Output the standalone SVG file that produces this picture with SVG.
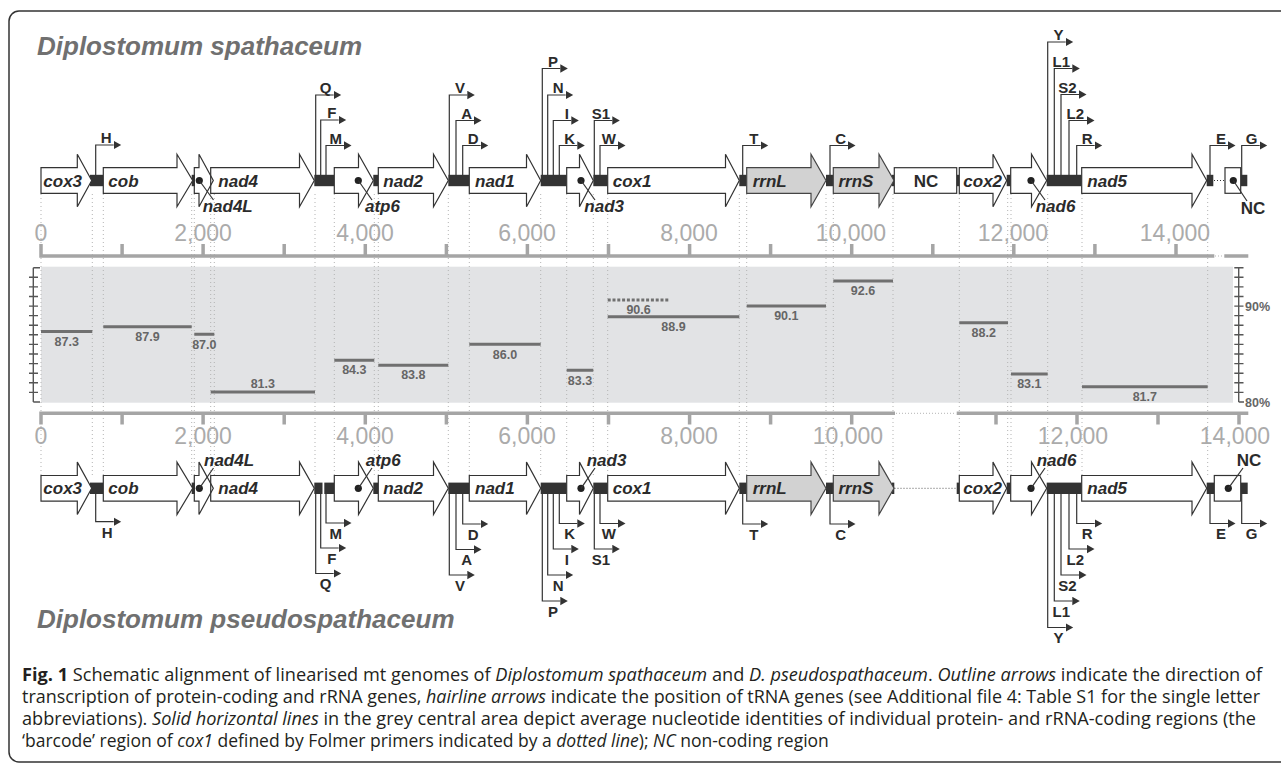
<svg xmlns="http://www.w3.org/2000/svg" width="1281" height="766" viewBox="0 0 1281 766">
<style>
.gene{fill:#fff;stroke:#333;stroke-width:1.2}
.rrn{fill:#d2d2d2;stroke:#444;stroke-width:1.2}
.bar{fill:#333}
.tr{fill:none;stroke:#333;stroke-width:1.2}
.ld{fill:none;stroke:#333;stroke-width:1.2}
.gl{font-family:"Liberation Sans",Arial,sans-serif;font-style:italic;font-weight:bold;font-size:17px;fill:#2b2b2b}
.nc{font-family:"Liberation Sans",Arial,sans-serif;font-weight:bold;font-size:17px;fill:#2b2b2b}
.tl{font-family:"Liberation Sans",Arial,sans-serif;font-weight:bold;font-size:15px;fill:#2b2b2b;text-anchor:end}
.ax{stroke:#a5a5a5;stroke-width:3.5;fill:none}
.axd{stroke:#b5b5b5;stroke-width:1;stroke-dasharray:1 2;fill:none}
.axl{font-family:"Liberation Sans",Arial,sans-serif;font-size:23px;fill:#ababab;text-anchor:middle}
.vd{stroke:#b3b3b3;stroke-width:1;stroke-dasharray:1 3;fill:none}
.idb{stroke:#707070;stroke-width:3;fill:none}
.idl{font-family:"Liberation Sans",Arial,sans-serif;font-weight:bold;font-size:12.5px;fill:#666;text-anchor:middle}
.yax{stroke:#555;stroke-width:1.4;fill:none}
.yl{font-family:"Liberation Sans",Arial,sans-serif;font-weight:bold;font-size:12.5px;fill:#666}
.ttl{font-family:"Liberation Sans",Arial,sans-serif;font-style:italic;font-weight:bold;font-size:26px;fill:#707070}
.cap{font-family:"Open Sans","Liberation Sans",sans-serif;font-size:17.5px;fill:#231f20}
</style>
<defs>
<marker id="ah" viewBox="0 -4.5 8 9" refX="0" refY="0" markerWidth="8" markerHeight="9" markerUnits="userSpaceOnUse" orient="auto"><path d="M0,-4.2 L7.5,0 L0,4.2 z" fill="#333"/></marker>
</defs>

<path id="frame" d="M1290,11 H19 A10,10 0 0 0 9,21 V752 A10,10 0 0 0 19,762 H1290" fill="none" stroke="#333" stroke-width="1.5"/>

<text class="ttl" x="37" y="55">Diplostomum spathaceum</text>
<text class="ttl" x="37" y="628">Diplostomum pseudospathaceum</text>

<!-- central identity area -->
<rect x="41" y="266.7" width="1192" height="136" fill="#e2e3e5"/>

<!-- dotted gene boundary lines -->
<g id="boundaries" class="vd">
<path d="M41,194V476 M92.3,194V476 M103.3,194V476 M191.7,194V476 M194.3,194V476 M210.7,194V476 M214.3,194V476 M315,194V476 M334.3,194V476 M374.3,194V476 M378.3,194V476 M448.3,194V476 M469.3,194V476 M540.7,194V476 M566.7,194V476 M593.3,194V476 M607.7,194V476 M739.3,194V476 M746.7,194V476 M826,194V476 M833.3,194V476 M893,194V476 M959.3,194V476 M1007.7,194V476 M1011,194V476 M1047.7,194V476 M1082,194V476 M1207.7,194V476"/>
</g>

<!-- top axis -->
<g id="axis-top">
<path class="ax" d="M41,244V256H1214.3 M1224.3,256H1248.3 M122.1,244V256 M203.1,244V256 M284.2,244V256 M365.3,244V256 M446.4,244V256 M527.4,244V256 M608.5,244V256 M689.6,244V256 M770.6,244V256 M851.7,244V256 M932.8,244V256 M1013.8,244V256 M1094.9,244V256 M1176,244V256"/>
<path class="axd" d="M1215,256H1224"/>
<text class="axl" x="41" y="241">0</text>
<text class="axl" x="203" y="241">2,000</text>
<text class="axl" x="365" y="241">4,000</text>
<text class="axl" x="527" y="241">6,000</text>
<text class="axl" x="689" y="241">8,000</text>
<text class="axl" x="851" y="241">10,000</text>
<text class="axl" x="1013" y="241">12,000</text>
<text class="axl" x="1175" y="241">14,000</text>
</g>

<!-- bottom axis -->
<g id="axis-bottom">
<path class="ax" d="M41,424.5V413.3H895 M956.7,413.3H1248.3 M122.1,413.3V424.5 M203.1,413.3V424.5 M284.2,413.3V424.5 M365.3,413.3V424.5 M446.4,413.3V424.5 M527.4,413.3V424.5 M608.5,413.3V424.5 M689.6,413.3V424.5 M770.6,413.3V424.5 M851.7,413.3V424.5 M996,413.3V424.5 M1077,413.3V424.5 M1158,413.3V424.5 M1239,413.3V424.5"/>
<path class="axd" d="M896,413.3H956"/>
<text class="axl" x="41" y="443.5">0</text>
<text class="axl" x="203" y="443.5">2,000</text>
<text class="axl" x="365" y="443.5">4,000</text>
<text class="axl" x="527" y="443.5">6,000</text>
<text class="axl" x="689" y="443.5">8,000</text>
<text class="axl" x="848" y="443.5">10,000</text>
<text class="axl" x="1073" y="443.5">12,000</text>
<text class="axl" x="1235" y="443.5">14,000</text>
</g>

<!-- identity y axes -->
<g id="identity-axes">
<path class="yax" d="M33.3,267.7V402 M33.3,267.7H40 M33.3,402H40 M29,277.3H38 M29,286.9H38 M29,296.5H38 M29,306.1H38 M29,315.6H38 M29,325.2H38 M29,334.8H38 M29,344.4H38 M29,354H38 M29,363.6H38 M29,373.2H38 M29,382.8H38 M29,392.4H38"/>
<path class="yax" d="M1238.7,267.7V402 M1234.3,267.7H1243.5 M1238.7,402H1244 M1234.3,277.3H1243.5 M1234.3,286.9H1243.5 M1234.3,296.5H1243.5 M1234.3,306.1H1243.5 M1234.3,315.6H1243.5 M1234.3,325.2H1243.5 M1234.3,334.8H1243.5 M1234.3,344.4H1243.5 M1234.3,354H1243.5 M1234.3,363.6H1243.5 M1234.3,373.2H1243.5 M1234.3,382.8H1243.5 M1234.3,392.4H1243.5"/>
<text class="yl" x="1245" y="310.5">90%</text>
<text class="yl" x="1245" y="407">80%</text>
</g>

<!-- identity bars -->
<g id="identities">
<path class="idb" d="M41,331.5H92.3 M103.3,326.7H191.7 M194.3,334.3H214.3 M210.7,392H315 M334.3,360.3H374.3 M378.3,365.3H448.3 M469.3,344.3H540.7 M566.7,370.3H593.3 M607.7,316.7H739.3 M746.7,306H826 M833.3,281H893 M959.3,322.7H1008 M1011,374H1047.7 M1082,386.7H1207.7"/>
<path class="idb" stroke-dasharray="3 1.8" d="M607.7,300H669.6"/>
<text class="idl" x="66.7" y="346">87.3</text>
<text class="idl" x="147.5" y="341.3">87.9</text>
<text class="idl" x="204.3" y="348.5">87.0</text>
<text class="idl" x="262.8" y="387.5">81.3</text>
<text class="idl" x="354.3" y="374">84.3</text>
<text class="idl" x="413.3" y="379">83.8</text>
<text class="idl" x="505" y="358.5">86.0</text>
<text class="idl" x="580" y="384.5">83.3</text>
<text class="idl" x="638.6" y="313.5">90.6</text>
<text class="idl" x="673.5" y="330.5">88.9</text>
<text class="idl" x="786.3" y="320">90.1</text>
<text class="idl" x="863" y="295">92.6</text>
<text class="idl" x="983.7" y="336.5">88.2</text>
<text class="idl" x="1029.3" y="388">83.1</text>
<text class="idl" x="1144.8" y="401">81.7</text>
</g>

<!-- ===== TOP GENOME ===== -->
<g id="top-spacers" class="bar">
<rect x="90" y="174.8" width="13.3" height="11.4"/>
<rect x="191.7" y="174.8" width="3.3" height="11.4"/>
<rect x="314.3" y="174.8" width="20" height="11.4"/>
<rect x="373.3" y="174.8" width="5" height="11.4"/>
<rect x="448.3" y="174.8" width="21" height="11.4"/>
<rect x="540.7" y="174.8" width="26" height="11.4"/>
<rect x="593.3" y="174.8" width="14.4" height="11.4"/>
<rect x="739.3" y="174.8" width="7.4" height="11.4"/>
<rect x="826" y="174.8" width="7.3" height="11.4"/>
<rect x="891.7" y="174.8" width="2.6" height="11.4"/>
<rect x="956.7" y="174.8" width="2.6" height="11.4"/>
<rect x="1006.7" y="174.8" width="4" height="11.4"/>
<rect x="1046.7" y="174.8" width="35" height="11.4"/>
<rect x="1206.7" y="174.8" width="6.6" height="11.4"/>
<rect x="1240.7" y="174.8" width="6.6" height="11.4"/>
</g>
<path d="M1214,180.5H1225" stroke="#333" stroke-width="1" stroke-dasharray="1 2"/>

<g id="top-cox3"><polygon class="gene" points="41,167.7 77.3,167.7 77.3,154.3 91.7,180.5 77.3,206.7 77.3,193.3 41,193.3"/><text class="gl" x="43.3" y="186.5">cox3</text></g>
<g id="top-cob"><polygon class="gene" points="103.3,167.7 177,167.7 177,154.3 192.7,180.5 177,206.7 177,193.3 103.3,193.3"/><text class="gl" x="108.3" y="186.5">cob</text></g>
<g id="top-nad4"><polygon class="gene" points="210.7,167.7 299.5,167.7 299.5,154.3 314.3,180.5 299.5,206.7 299.5,193.3 210.7,193.3"/><text class="gl" x="218.3" y="186.5">nad4</text></g>
<g id="top-nad4L"><polygon class="gene" style="fill:none" points="194.3,167.7 199,167.7 199,154.3 213.3,180.5 199,206.7 199,193.3 194.3,193.3"/><circle cx="199.3" cy="180.5" r="3.6" fill="#222"/><path class="ld" d="M199.3,180.5L213.5,200"/><text class="gl" x="202.7" y="211.7">nad4L</text></g>
<g id="top-atp6"><polygon class="gene" points="334.3,167.7 358.5,167.7 358.5,154.3 373.3,180.5 358.5,206.7 358.5,193.3 334.3,193.3"/><circle cx="358.3" cy="180.5" r="3.6" fill="#222"/><path class="ld" d="M358.3,180.5L372,200"/><text class="gl" x="365" y="211.7">atp6</text></g>
<g id="top-nad2"><polygon class="gene" points="378.3,167.7 433.5,167.7 433.5,154.3 448.3,180.5 433.5,206.7 433.5,193.3 378.3,193.3"/><text class="gl" x="383.3" y="186.5">nad2</text></g>
<g id="top-nad1"><polygon class="gene" points="469.3,167.7 526.5,167.7 526.5,154.3 540.7,180.5 526.5,206.7 526.5,193.3 469.3,193.3"/><text class="gl" x="475" y="186.5">nad1</text></g>
<g id="top-nad3"><polygon class="gene" points="566.7,167.7 579.5,167.7 579.5,154.3 593.3,180.5 579.5,206.7 579.5,193.3 566.7,193.3"/><circle cx="581" cy="180.5" r="3.6" fill="#222"/><path class="ld" d="M581,180.5L595,200"/><text class="gl" x="584.3" y="211.7">nad3</text></g>
<g id="top-cox1"><polygon class="gene" points="607.7,167.7 725.5,167.7 725.5,154.3 739.3,180.5 725.5,206.7 725.5,193.3 607.7,193.3"/><text class="gl" x="612.7" y="186.5">cox1</text></g>
<g id="top-rrnL"><polygon class="rrn" points="746.7,167.7 811,167.7 811,154.3 826,180.5 811,206.7 811,193.3 746.7,193.3"/><text class="gl" x="752.7" y="186.5">rrnL</text></g>
<g id="top-rrnS"><polygon class="rrn" points="833.3,167.7 879,167.7 879,154.3 894,180.5 879,206.7 879,193.3 833.3,193.3"/><text class="gl" x="838.5" y="186.5">rrnS</text></g>
<g id="top-NC"><rect class="gene" x="894.3" y="167.7" width="62.4" height="25.6"/><text class="nc" x="926" y="186.5" text-anchor="middle">NC</text></g>
<g id="top-cox2"><polygon class="gene" points="959.3,167.7 993,167.7 993,154.3 1006.7,180.5 993,206.7 993,193.3 959.3,193.3"/><text class="gl" x="963.3" y="186.5">cox2</text></g>
<g id="top-nad6"><polygon class="gene" points="1010.7,167.7 1031.5,167.7 1031.5,154.3 1046.7,180.5 1031.5,206.7 1031.5,193.3 1010.7,193.3"/><circle cx="1031" cy="180.5" r="3.6" fill="#222"/><path class="ld" d="M1031,180.5L1045,200"/><text class="gl" x="1035.7" y="211.7">nad6</text></g>
<g id="top-nad5"><polygon class="gene" points="1081.7,167.7 1192,167.7 1192,154.3 1206.7,180.5 1192,206.7 1192,193.3 1081.7,193.3"/><text class="gl" x="1087.3" y="186.5">nad5</text></g>
<g id="top-NC2"><rect class="gene" x="1225" y="167.7" width="15.7" height="25.6"/><circle cx="1233.3" cy="180.5" r="3.6" fill="#222"/><path class="ld" d="M1233.3,180.5L1247,201"/><text class="nc" x="1240.7" y="214.3">NC</text></g>

<!-- top tRNA hairline arrows -->
<g id="top-trna">
<g class="tr" marker-end="url(#ah)">
<path d="M95.7,175V145H113.7"/>
<path d="M315.7,175V95H333.7"/>
<path d="M320.7,175V120H338.7"/>
<path d="M326,175V145.5H344"/>
<path d="M449.3,175V95H467.3"/>
<path d="M456,175V120.5H474"/>
<path d="M462.7,175V145.5H480.7"/>
<path d="M542.3,175V68.5H560.3"/>
<path d="M547.7,175V95H565.7"/>
<path d="M553.3,175V120.5H571.3"/>
<path d="M559.3,175V145.5H577.3"/>
<path d="M594.3,175V120.5H612.3"/>
<path d="M600,175V145.5H618"/>
<path d="M742.7,175V145.5H760.7"/>
<path d="M830,175V145.5H848"/>
<path d="M1047.7,175V42H1065.7"/>
<path d="M1054.3,175V68.5H1072.3"/>
<path d="M1061,175V94.5H1079"/>
<path d="M1069,175V120.5H1087"/>
<path d="M1076.7,175V145.5H1094.7"/>
<path d="M1210,175V145.5H1228"/>
<path d="M1241.7,175V145.5H1259.7"/>
</g>
<text class="tl" x="111.5" y="143">H</text>
<text class="tl" x="331.5" y="93">Q</text>
<text class="tl" x="336.5" y="118">F</text>
<text class="tl" x="342" y="143.5">M</text>
<text class="tl" x="465" y="93">V</text>
<text class="tl" x="472" y="118.5">A</text>
<text class="tl" x="478.5" y="143.5">D</text>
<text class="tl" x="558" y="66.5">P</text>
<text class="tl" x="563.5" y="93">N</text>
<text class="tl" x="569" y="118.5">I</text>
<text class="tl" x="575" y="143.5">K</text>
<text class="tl" x="610" y="118.5">S1</text>
<text class="tl" x="616" y="143.5">W</text>
<text class="tl" x="758.5" y="143.5">T</text>
<text class="tl" x="846" y="143.5">C</text>
<text class="tl" x="1063.5" y="40">Y</text>
<text class="tl" x="1070" y="66.5">L1</text>
<text class="tl" x="1076.7" y="92.5">S2</text>
<text class="tl" x="1084" y="118.5">L2</text>
<text class="tl" x="1092.5" y="143.5">R</text>
<text class="tl" x="1226" y="143.5">E</text>
<text class="tl" x="1257.5" y="143.5">G</text>
</g>

<!-- ===== BOTTOM GENOME ===== -->
<g id="bottom-spacers" class="bar">
<rect x="90" y="482.6" width="13.3" height="11.4"/>
<rect x="191.7" y="482.6" width="3.3" height="11.4"/>
<rect x="314.3" y="482.6" width="8.2" height="11.4"/>
<rect x="324.3" y="482.6" width="10" height="11.4"/>
<rect x="373.3" y="482.6" width="5" height="11.4"/>
<rect x="448.3" y="482.6" width="21" height="11.4"/>
<rect x="540.7" y="482.6" width="26" height="11.4"/>
<rect x="593.3" y="482.6" width="14.4" height="11.4"/>
<rect x="739.3" y="482.6" width="7.4" height="11.4"/>
<rect x="826" y="482.6" width="7.3" height="11.4"/>
<rect x="891.7" y="482.6" width="2.6" height="11.4"/>
<rect x="956.7" y="482.6" width="2.6" height="11.4"/>
<rect x="1006.7" y="482.6" width="4" height="11.4"/>
<rect x="1046.7" y="482.6" width="35" height="11.4"/>
<rect x="1206.7" y="482.6" width="7.6" height="11.4"/>
<rect x="1240.7" y="482.6" width="7" height="11.4"/>
</g>
<path d="M894.5,488.3H956.5" stroke="#555" stroke-width="1" stroke-dasharray="1 2"/>

<g id="bot-cox3"><polygon class="gene" points="41,475.5 77.3,475.5 77.3,462.1 91.7,488.3 77.3,514.5 77.3,501.1 41,501.1"/><text class="gl" x="43.3" y="494.3">cox3</text></g>
<g id="bot-cob"><polygon class="gene" points="103.3,475.5 177,475.5 177,462.1 192.7,488.3 177,514.5 177,501.1 103.3,501.1"/><text class="gl" x="108.3" y="494.3">cob</text></g>
<g id="bot-nad4"><polygon class="gene" points="210.7,475.5 299.5,475.5 299.5,462.1 314.3,488.3 299.5,514.5 299.5,501.1 210.7,501.1"/><text class="gl" x="218.3" y="494.3">nad4</text></g>
<g id="bot-nad4L"><polygon class="gene" style="fill:none" points="194.3,475.5 199,475.5 199,462.1 213.3,488.3 199,514.5 199,501.1 194.3,501.1"/><circle cx="199.3" cy="488.3" r="3.6" fill="#222"/><path class="ld" d="M199.3,488.3L213.5,468"/><text class="gl" x="204" y="465.7">nad4L</text></g>
<g id="bot-atp6"><polygon class="gene" points="334.3,475.5 358.5,475.5 358.5,462.1 373.3,488.3 358.5,514.5 358.5,501.1 334.3,501.1"/><circle cx="358.3" cy="488.3" r="3.6" fill="#222"/><path class="ld" d="M358.3,488.3L372,468"/><text class="gl" x="365.7" y="465.7">atp6</text></g>
<g id="bot-nad2"><polygon class="gene" points="378.3,475.5 433.5,475.5 433.5,462.1 448.3,488.3 433.5,514.5 433.5,501.1 378.3,501.1"/><text class="gl" x="383.3" y="494.3">nad2</text></g>
<g id="bot-nad1"><polygon class="gene" points="469.3,475.5 526.5,475.5 526.5,462.1 540.7,488.3 526.5,514.5 526.5,501.1 469.3,501.1"/><text class="gl" x="475" y="494.3">nad1</text></g>
<g id="bot-nad3"><polygon class="gene" points="566.7,475.5 579.5,475.5 579.5,462.1 593.3,488.3 579.5,514.5 579.5,501.1 566.7,501.1"/><circle cx="581" cy="488.3" r="3.6" fill="#222"/><path class="ld" d="M581,488.3L595,468"/><text class="gl" x="586.7" y="465.7">nad3</text></g>
<g id="bot-cox1"><polygon class="gene" points="607.7,475.5 725.5,475.5 725.5,462.1 739.3,488.3 725.5,514.5 725.5,501.1 607.7,501.1"/><text class="gl" x="612.7" y="494.3">cox1</text></g>
<g id="bot-rrnL"><polygon class="rrn" points="746.7,475.5 811,475.5 811,462.1 826,488.3 811,514.5 811,501.1 746.7,501.1"/><text class="gl" x="752.7" y="494.3">rrnL</text></g>
<g id="bot-rrnS"><polygon class="rrn" points="833.3,475.5 879,475.5 879,462.1 894,488.3 879,514.5 879,501.1 833.3,501.1"/><text class="gl" x="838.5" y="494.3">rrnS</text></g>
<g id="bot-cox2"><polygon class="gene" points="959.3,475.5 993,475.5 993,462.1 1006.7,488.3 993,514.5 993,501.1 959.3,501.1"/><text class="gl" x="963.3" y="494.3">cox2</text></g>
<g id="bot-nad6"><polygon class="gene" points="1010.7,475.5 1031.5,475.5 1031.5,462.1 1046.7,488.3 1031.5,514.5 1031.5,501.1 1010.7,501.1"/><circle cx="1031" cy="488.3" r="3.6" fill="#222"/><path class="ld" d="M1031,488.3L1045,468"/><text class="gl" x="1036.7" y="465.7">nad6</text></g>
<g id="bot-nad5"><polygon class="gene" points="1081.7,475.5 1192,475.5 1192,462.1 1206.7,488.3 1192,514.5 1192,501.1 1081.7,501.1"/><text class="gl" x="1087.3" y="494.3">nad5</text></g>
<g id="bot-NC"><rect class="gene" x="1214.3" y="475.5" width="26.4" height="25.6"/><circle cx="1228.3" cy="488.3" r="3.6" fill="#222"/><path class="ld" d="M1228.3,488.3L1243,468"/><text class="nc" x="1236.7" y="465.7">NC</text></g>

<!-- bottom tRNA hairline arrows -->
<g id="bottom-trna">
<g class="tr" marker-end="url(#ah)">
<path d="M95.7,494V521.7H113.7"/>
<path d="M326,494V523H344"/>
<path d="M320.7,494V548H338.7"/>
<path d="M315.7,494V573.5H333.7"/>
<path d="M462.7,494V524H480.7"/>
<path d="M456,494V549.5H474"/>
<path d="M449.3,494V575H467.3"/>
<path d="M559.3,494V523.5H577.3"/>
<path d="M553.3,494V549H571.3"/>
<path d="M547.7,494V575H565.7"/>
<path d="M542.3,494V601H560.3"/>
<path d="M600,494V523.5H618"/>
<path d="M594.3,494V549H612.3"/>
<path d="M742.7,494V524H760.7"/>
<path d="M830,494V524H848"/>
<path d="M1076.7,494V523.5H1094.7"/>
<path d="M1069,494V549H1087"/>
<path d="M1061,494V575H1079"/>
<path d="M1054.3,494V601H1072.3"/>
<path d="M1047.7,494V627.5H1065.7"/>
<path d="M1210,494V523.5H1228"/>
<path d="M1241.7,494V523.5H1259.7"/>
</g>
<text class="tl" x="112.5" y="537.5">H</text>
<text class="tl" x="342" y="538.5">M</text>
<text class="tl" x="336.5" y="563.5">F</text>
<text class="tl" x="331.5" y="589">Q</text>
<text class="tl" x="478.5" y="539.5">D</text>
<text class="tl" x="472" y="565">A</text>
<text class="tl" x="465" y="590.5">V</text>
<text class="tl" x="575" y="539">K</text>
<text class="tl" x="569" y="564.5">I</text>
<text class="tl" x="563.5" y="590.5">N</text>
<text class="tl" x="558" y="616.5">P</text>
<text class="tl" x="616" y="539">W</text>
<text class="tl" x="610" y="564.5">S1</text>
<text class="tl" x="758.5" y="539.5">T</text>
<text class="tl" x="846" y="539.5">C</text>
<text class="tl" x="1092.5" y="539">R</text>
<text class="tl" x="1084" y="564.5">L2</text>
<text class="tl" x="1076.7" y="590.5">S2</text>
<text class="tl" x="1070" y="616.5">L1</text>
<text class="tl" x="1063.5" y="643">Y</text>
<text class="tl" x="1226" y="539">E</text>
<text class="tl" x="1257.5" y="539">G</text>
</g>

<!-- caption -->
<g id="caption" class="cap">
<text x="22" y="681" textLength="1240" lengthAdjust="spacingAndGlyphs"><tspan font-weight="bold">Fig. 1</tspan> Schematic alignment of linearised mt genomes of <tspan font-style="italic">Diplostomum spathaceum</tspan> and <tspan font-style="italic">D. pseudospathaceum</tspan>. <tspan font-style="italic">Outline arrows</tspan> indicate the direction of</text>
<text x="22" y="703" textLength="1238" lengthAdjust="spacingAndGlyphs">transcription of protein-coding and rRNA genes, <tspan font-style="italic">hairline arrows</tspan> indicate the position of tRNA genes (see Additional file 4: Table S1 for the single letter</text>
<text x="22" y="725" textLength="1234" lengthAdjust="spacingAndGlyphs">abbreviations). <tspan font-style="italic">Solid horizontal lines</tspan> in the grey central area depict average nucleotide identities of individual protein- and rRNA-coding regions (the</text>
<text x="22" y="747">‘barcode’ region of <tspan font-style="italic">cox1</tspan> defined by Folmer primers indicated by a <tspan font-style="italic">dotted line</tspan>); <tspan font-style="italic">NC</tspan> non-coding region</text>
</g>
</svg>
